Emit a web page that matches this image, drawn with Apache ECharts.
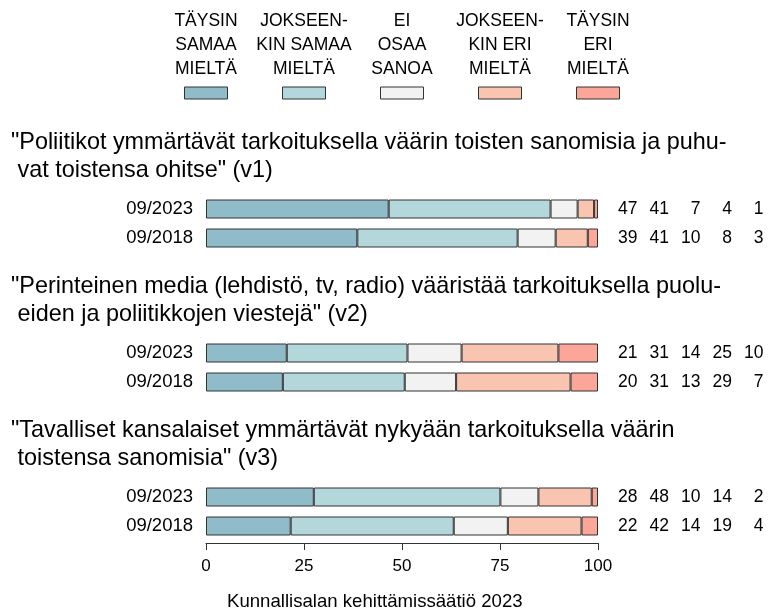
<!DOCTYPE html>
<html>
<head>
<meta charset="utf-8">
<script src="https://cdn.jsdelivr.net/npm/echarts@6/dist/echarts.min.js"></script>
<style>
  html, body { margin: 0; padding: 0; background: #fff; }
  #main { width: 776px; height: 612px; }
</style>
</head>
<body>
<div id="main"></div>
<script>
// vastausvaihtoehdot ja värit
var answers = ['TÄYSIN\nSAMAA\nMIELTÄ', 'JOKSEEN-\nKIN SAMAA\nMIELTÄ', 'EI\nOSAA\nSANOA', 'JOKSEEN-\nKIN ERI\nMIELTÄ', 'TÄYSIN\nERI\nMIELTÄ'];
var colors = ['#8fbcc8', '#b3d7da', '#f2f2f2', '#f9c4b0', '#fca69a'];
var years = ['09/2023', '09/2018'];
var ticks = [0, 25, 50, 75, 100];

var questions = [
    '"Poliitikot ymmärtävät tarkoituksella väärin toisten sanomisia ja puhu-\n vat toistensa ohitse" (v1)',
    '"Perinteinen media (lehdistö, tv, radio) vääristää tarkoituksella puolu-\n eiden ja poliitikkojen viestejä" (v2)',
    '"Tavalliset kansalaiset ymmärtävät nykyään tarkoituksella väärin\n toistensa sanomisia" (v3)'
];

// osuudet (%) vuosittain, rivit: 09/2023, 09/2018
var v1 = [[46.6, 41.3, 6.9, 4.2, 1.0], [38.6, 40.9, 9.7, 8.2, 2.6]];
var v2 = [[20.6, 30.8, 13.8, 24.7, 10.1], [19.6, 31.1, 13.1, 29.2, 7.0]];
var v3 = [[27.5, 47.6, 9.7, 13.6, 1.6], [21.6, 41.6, 13.8, 18.8, 4.2]];
var groups = [v1, v2, v3];

var font = 'Liberation Sans';
var chart = echarts.init(document.getElementById('main'));

var grids = [], xAxes = [], yAxes = [], series = [], titles = [], graphics = [];

groups.forEach(function (vals, g) {
    var top = 194.5 + g * 144;
    var last = g === groups.length - 1;
    grids.push({ left: 206, width: 392, top: top, height: 58 });

    xAxes.push({
        gridIndex: g, type: 'value', min: 0, max: 100, interval: 25,
        show: last, offset: 2.5,
        splitLine: { show: false },
        axisLine: { show: true, lineStyle: { color: '#333', width: 1 } },
        axisTick: { show: true, length: 7, lineStyle: { color: '#333' } },
        axisLabel: { color: '#000', fontSize: 17, fontFamily: font, margin: 15,
            customValues: ticks },
    });

    yAxes.push({
        gridIndex: g, type: 'category', data: years, inverse: true,
        axisLine: { show: false }, axisTick: { show: false },
        axisLabel: { color: '#000', fontSize: 18.5, fontFamily: font, margin: 13 }
    });
    // numerot oikealla
    yAxes.push({
        gridIndex: g, type: 'category', data: years, inverse: true, position: 'right',
        axisLine: { show: false }, axisTick: { show: false },
        axisLabel: {
            margin: 8,
            formatter: function (value, idx) {
                return vals[idx].map(function (v) { return '{n|' + Math.round(v) + '}'; }).join('');
            },
            rich: { n: { width: 31.5, align: 'right', fontSize: 17.5, fontFamily: font, color: '#000' } }
        }
    });

    answers.forEach(function (a, k) {
        series.push({
            name: a, type: 'bar', stack: 'q' + g,
            xAxisIndex: g, yAxisIndex: g * 2,
            barWidth: 19,
            itemStyle: { color: colors[k], borderColor: '#333', borderWidth: 1 },
            data: vals.map(function (row) { return row[k]; })
        });
    });

    titles.push({
        text: questions[g], left: 6, top: 124 + g * 144,
        textStyle: { fontSize: 23.4, fontWeight: 'normal', fontFamily: font, color: '#000', lineHeight: 28 }
    });
});

titles.push({
    text: 'Kunnallisalan kehittämissäätiö 2023', left: 222, top: 587,
    textStyle: { fontSize: 18.6, fontWeight: 'normal', fontFamily: font, color: '#000' }
});

// selite: teksti ylhäällä, laatikko alla
answers.forEach(function (a, k) {
    var cx = 206 + k * 98;
    graphics.push({
        type: 'text', x: cx, y: 9,
        style: { text: a, fill: '#000', fontSize: 17.5, fontFamily: font, lineHeight: 24, align: 'center' }
    });
    graphics.push({
        type: 'rect', shape: { x: cx - 21.5, y: 87, width: 43, height: 12 },
        style: { fill: colors[k], stroke: '#333', lineWidth: 1 }
    });
});

var option = {
    animation: false,
    title: titles,
    grid: grids,
    xAxis: xAxes,
    yAxis: yAxes,
    series: series,
    graphic: graphics
};

option && chart.setOption(option);
</script>
</body>
</html>
